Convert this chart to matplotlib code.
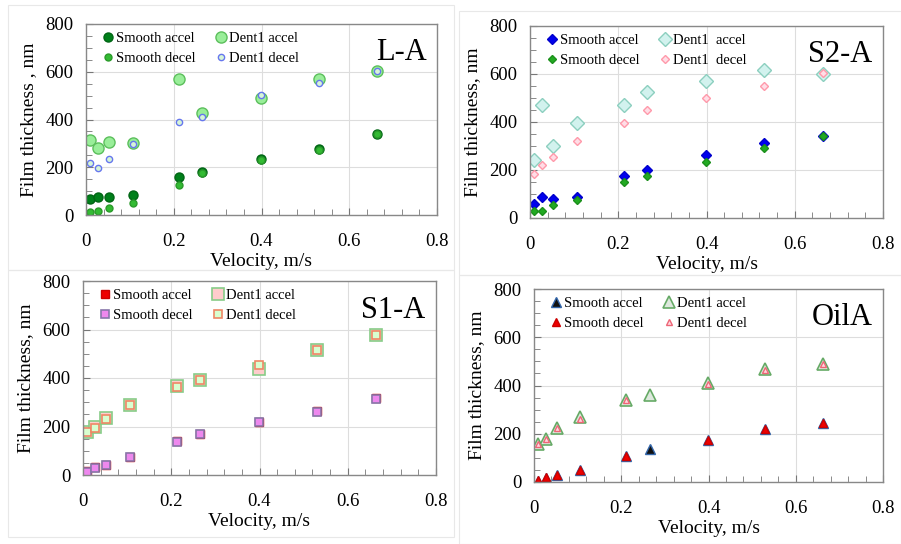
import matplotlib
matplotlib.use('Agg')
import matplotlib.pyplot as plt
from matplotlib.patches import Rectangle
from matplotlib.ticker import MultipleLocator

plt.rcParams['font.family'] = ['Liberation Serif', 'DejaVu Serif']

# velocities (m/s) used in all tests
vel = [0.01, 0.027, 0.053, 0.106, 0.212, 0.265, 0.398, 0.53, 0.663]
vel_no265 = [0.01, 0.027, 0.053, 0.106, 0.212, 0.398, 0.53, 0.663]

# L-A
la_smooth_acc = [66, 77, 74, 82, 160, 180, 233, 276, 341]
la_smooth_dec = [14, 18, 31, 49, 126, 174, 230, 272, 339]
la_dent_acc = [314, 282, 307, 303, 570, 426, 489, 570, 603]
la_dent_dec = [219, 198, 235, 296, 391, 409, 503, 551, 604]

# S2-A
s2_smooth_acc = [57, 86, 79, 86, 173, 199, 262, 311, 342]
s2_smooth_dec = [28, 30, 53, 73, 148, 174, 233, 293, 342]
s2_dent_acc = [241, 471, 300, 396, 471, 525, 569, 615, 602]
s2_dent_dec = [185, 219, 253, 322, 397, 450, 502, 552, 605]

# S1-A
s1_smooth_acc = [18, 32, 41, 73, 140, 170, 219, 263, 318]
s1_smooth_dec = [11, 29, 41, 74, 137, 168, 217, 260, 315]
s1_dent_acc = [177, 198, 235, 290, 366, 390, 436, 514, 576]
s1_dent_dec = [177, 192, 232, 290, 363, 390, 455, 514, 576]

# OilA
oa_smooth_acc = [4, 18, 30, 50, 107, 138, 174, 220, 244]
oa_smooth_dec = [8, 22, 30, 50, 107, 174, 220, 244]
oa_dent_acc = [159, 177, 222, 271, 340, 362, 412, 469, 491]
oa_dent_dec = [156, 180, 222, 263, 340, 407, 466, 490]

W, H = 901, 544
fig = plt.figure(figsize=(W / 100, H / 100), dpi=100)

# faint frames round the four pasted panels
for (x0, y0, x1, y1) in [(8, 5, 454, 270), (459, 11, 901, 275),
                         (8, 270, 454, 537), (459, 275, 901, 544)]:
    fig.patches.append(Rectangle((x0 / W, 1 - y1 / H), (x1 - x0) / W, (y1 - y0) / H,
                                 transform=fig.transFigure, fill=False,
                                 edgecolor='#e8e8e8', lw=0.8))


def make_ax(px, ylabel, title):
    x0, y0, x1, y1 = px
    ax = fig.add_axes([x0 / W, 1 - y1 / H, (x1 - x0) / W, (y1 - y0) / H])
    ax.set_xlim(0, 0.8)
    ax.set_ylim(0, 800)
    ax.xaxis.set_minor_locator(MultipleLocator(0.04))
    ax.yaxis.set_major_locator(MultipleLocator(200))
    ax.yaxis.set_minor_locator(MultipleLocator(50))
    ax.set_xticks([0, 0.2, 0.4, 0.6, 0.8])
    ax.set_xticklabels(['0', '0.2', '0.4', '0.6', '0.8'])
    ax.tick_params(which='both', direction='in', top=False, right=False,
                   color='#777777', labelsize=13.5, pad=9)
    ax.tick_params(axis='x', which='major', pad=13)
    ax.tick_params(which='major', length=5)
    ax.tick_params(which='minor', length=4)
    for s in ax.spines.values():
        s.set_color('#888888')
        s.set_linewidth(1.0)
    ax.grid(True, which='major', color='#dddddd', lw=0.8)
    ax.set_axisbelow(True)
    ax.set_xlabel('Velocity, m/s', fontsize=14, labelpad=2)
    ax.set_ylabel(ylabel, fontsize=14, labelpad=6)
    ax.text(0.97, 0.85, title, transform=ax.transAxes, ha='right', va='center',
            fontsize=22)
    return ax


def finish_legend(ax):
    ax.legend(loc='upper left', ncol=2, frameon=False, fontsize=10.5,
              handlelength=0.8, handletextpad=0.15, columnspacing=1.3,
              labelspacing=0.5, borderaxespad=0.0, bbox_to_anchor=(0.03, 0.99))


# ---- L-A
ax1 = make_ax((86, 24, 437, 215), 'Film thickness , nm', 'L-A')
ax1.plot(vel, la_smooth_acc, 'o', ms=6.5, mfc='#00801a', mec='#006614', label='Smooth accel')
ax1.plot(vel, la_smooth_dec, 'o', ms=5, mfc='#33bb33', mec='#2a9a2a', label='Smooth decel')
ax1.plot(vel, la_dent_acc, 'o', ms=8, mfc='#99ee99', mec='#5cbf5c', label='Dent1 accel')
ax1.plot(vel, la_dent_dec, 'o', ms=4.5, mfc='#d6f5d6', mec='#6677ee', mew=1, label='Dent1 decel')
finish_legend(ax1)

# ---- S2-A
ax2 = make_ax((530, 26, 883, 218), 'Film thickness, nm', 'S2-A')
ax2.plot(vel, s2_smooth_acc, 'D', ms=5, mfc='#0000ee', mec='#0000cc', label='Smooth accel')
ax2.plot(vel, s2_smooth_dec, 'D', ms=4, mfc='#22aa22', mec='#1c901c', label='Smooth decel')
ax2.plot(vel, s2_dent_acc, 'D', ms=7, mfc='#d2f2ee', mec='#8ccfbf', label='Dent1  accel')
ax2.plot(vel, s2_dent_dec, 'D', ms=4, mfc='#ffdde6', mec='#ff99aa', label='Dent1  decel')
finish_legend(ax2)

# ---- S1-A
ax3 = make_ax((83, 281, 436, 475), 'Film thickness, nm', 'S1-A')
ax3.plot(vel, s1_smooth_acc, 's', ms=6, mfc='#ee0000', mec='#cc0000', label='Smooth accel')
ax3.plot(vel, s1_smooth_dec, 's', ms=5.5, mfc='#ee88ee', mec='#8877aa', mew=1.2, label='Smooth decel')
ax3.plot(vel, s1_dent_acc, 's', ms=8, mfc='#ffcccc', mec='#88cc88', mew=1.2, label='Dent1 accel')
ax3.plot(vel, s1_dent_dec, 's', ms=6, mfc='#d8ffd0', mec='#ee8866', mew=1.2, label='Dent1 decel')
finish_legend(ax3)

# ---- OilA
ax4 = make_ax((534, 289, 883, 482), 'Film thickness, nm', 'OilA')
ax4.plot(vel, oa_smooth_acc, '^', ms=6.5, mfc='#111111', mec='#3366aa', label='Smooth accel')
ax4.plot(vel_no265, oa_smooth_dec, '^', ms=5.5, mfc='#ee0000', mec='#cc0000', label='Smooth decel')
ax4.plot(vel, oa_dent_acc, '^', ms=8, mfc='#dde8dd', mec='#66aa66', mew=1.2, label='Dent1 accel')
ax4.plot(vel_no265, oa_dent_dec, '^', ms=5, mfc='#ffd8e0', mec='#ee6677', label='Dent1 decel')
finish_legend(ax4)

fig.savefig('out.png', dpi=100)
